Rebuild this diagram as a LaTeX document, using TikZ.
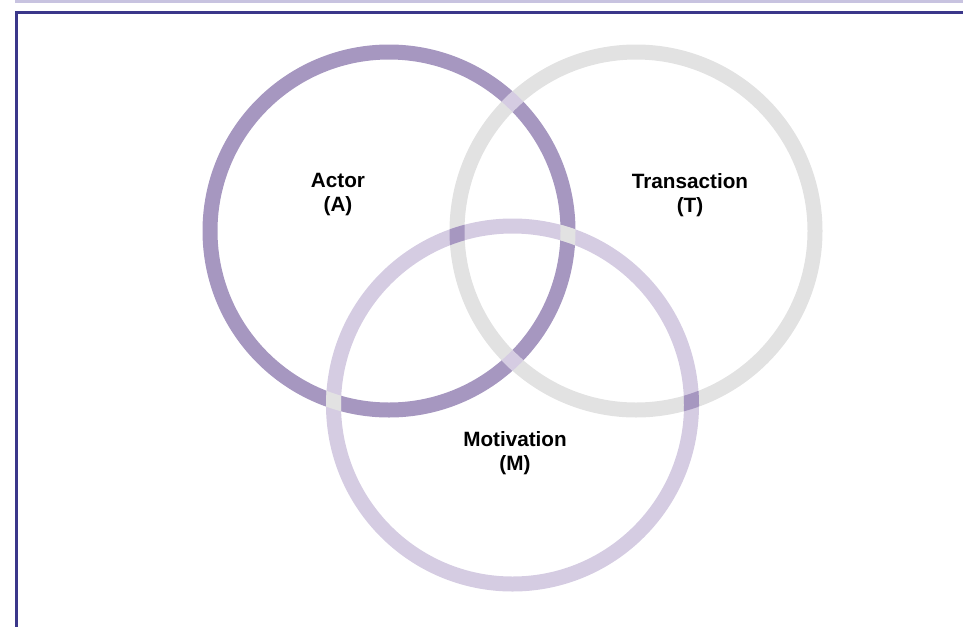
\documentclass[tikz,border=0pt]{standalone}
\usepackage{fontspec}
\setsansfont{Liberation Sans}
\definecolor{ringA}{RGB}{166,151,192}
\definecolor{ringT}{RGB}{226,226,226}
\definecolor{ringM}{RGB}{213,204,226}
\definecolor{frameline}{RGB}{59,55,138}
\definecolor{framestrip}{RGB}{200,195,224}
\begin{document}
\begin{tikzpicture}[x=1pt,y=-1pt,every node/.style={align=center,font=\sffamily\bfseries\fontsize{20.7}{24}\selectfont},ring/.style={line width=15pt}]
\useasboundingbox (0,0) rectangle (963,627);
% frame
\fill[framestrip] (15,0) rectangle (963,2.5);
\fill[frameline] (15,11) rectangle (963,14);
\fill[frameline] (15,11) rectangle (17.5,627);

\coordinate (a) at (389,231);
\coordinate (t) at (636,231);
\coordinate (m) at (512.5,405);

\draw[ring,ringA] (a) circle (179);
\draw[ring,ringT] (t) circle (179);
\draw[ring,ringM] (m) circle (179);

% crossings take the third colour
\begin{scope}[even odd rule]
\clip (a) circle (186.5) (a) circle (171.5);
\draw[ring,ringM] (t) circle (179);
\draw[ring,ringT] (m) circle (179);
\end{scope}
\begin{scope}[even odd rule]
\clip (t) circle (186.5) (t) circle (171.5);
\draw[ring,ringA] (m) circle (179);
\end{scope}

\node (A) at (338,195) {Actor\\(A)};
\node (T) at (690,195) {Transaction\\(T)};
\node (M) at (515,453) {Motivation\\(M)};
\end{tikzpicture}
\end{document}
